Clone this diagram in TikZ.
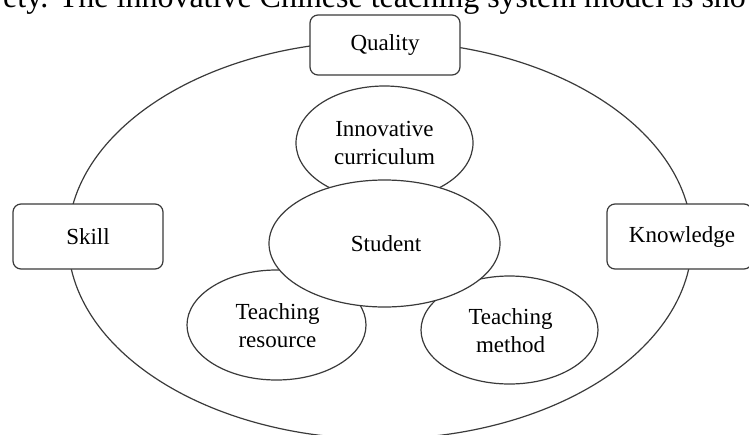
\documentclass[tikz,border=0pt]{standalone}
\usepackage{fontspec}
\setmainfont{Liberation Serif}
\usetikzlibrary{shapes.geometric}
\definecolor{linegray}{HTML}{3A3A3A}
\tikzset{
  lbl/.style={font=\fontsize{23}{28}\selectfont, align=center, text=black},
  rbox/.style={draw=linegray, line width=1.2pt, fill=white, rounded corners=8pt, inner sep=0pt},
  oval/.style={ellipse, draw=linegray, line width=1.2pt, fill=white, inner sep=0pt},
}
\begin{document}
\begin{tikzpicture}[x=1pt,y=-1pt]
\useasboundingbox (0,0) rectangle (749,434);
\clip (0,0) rectangle (749,434);
% cropped caption line at the top
\node[anchor=base west, inner sep=0pt, font=\fontsize{32}{38}\selectfont] (caption) at (3,7.5) {ety. The innovative Chinese teaching system model is sho};
% outer frame ellipse
\node[ellipse, draw=linegray, line width=1.2pt, inner sep=0pt, minimum width=624pt, minimum height=398pt] (frame) at (380,240) {};
% boxes
\node[rbox, minimum width=150pt, minimum height=60pt] (quality) at (385,45) {};
\node[lbl] at (quality.center) {Quality};
\node[rbox, minimum width=150pt, minimum height=65pt] (skill) at (88,236.5) {};
\node[lbl] at (skill.center) {Skill};
\node[rbox, minimum width=145pt, minimum height=65pt] (knowledge) at (679.5,236.5) {};
\node[lbl] at (682,236.5) {Knowledge};
% inner ovals
\node[oval, lbl, minimum width=177pt, minimum height=114pt] (curr) at (384.5,143) {};
\node[lbl] at (384.5,143) {Innovative\\curriculum};
\node[oval, lbl, minimum width=179pt, minimum height=110pt] (res) at (276.5,325) {};
\node[lbl] at (277.5,326) {Teaching\\resource};
\node[oval, lbl, minimum width=177pt, minimum height=108pt] (meth) at (509.5,330) {};
\node[lbl] at (510.5,331) {Teaching\\method};
\node[oval, lbl, minimum width=231pt, minimum height=127pt] (student) at (384.5,243.5) {};
\node[lbl] at (386,244) {Student};
\end{tikzpicture}
\end{document}
